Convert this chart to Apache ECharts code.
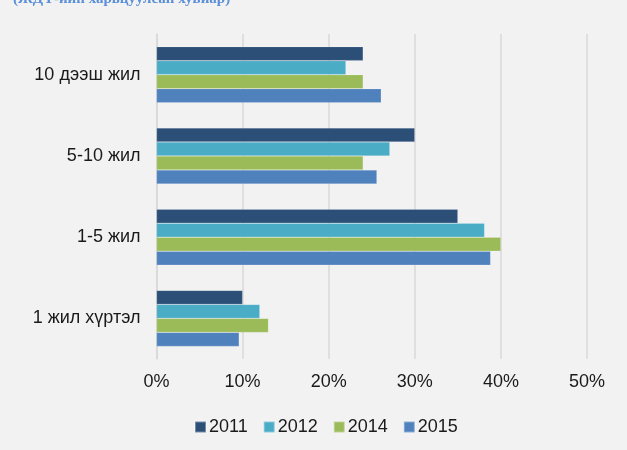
<!DOCTYPE html>
<html>
<head>
<meta charset="utf-8">
<script src="https://cdn.jsdelivr.net/npm/echarts@6/dist/echarts.min.js"></script>
<style>html,body{margin:0;padding:0;background:#f2f2f2;}#c{width:627px;height:450px;}</style>
</head>
<body>
<div id="c"></div>
<script>
var categories = ["10 дээш жил", "5-10 жил", "1-5 жил", "1 жил хүртэл"];
var years = ["2011", "2012", "2014", "2015"];
var s2011 = [24, 30, 35, 10];
var s2012 = [22, 27.1, 38.1, 12];
var s2014 = [24, 24, 40, 13];
var s2015 = [26.1, 25.6, 38.8, 9.6];
var xTicks = [0, 10, 20, 30, 40, 50];
var colors = ["#2c4f78", "#4bacc6", "#9bbb59", "#4f81bd"];

var chart = echarts.init(document.getElementById('c'));
var seriesData = [s2011, s2012, s2014, s2015];
chart.setOption({
  backgroundColor: '#f2f2f2',
  animation: false,
  color: colors,
  title: {
    text: '(ЖДҮ-ийн харьцуулсан хувиар)',
    left: 8, top: -13,
    textStyle: { fontFamily: 'Liberation Serif', fontWeight: 'bold', fontSize: 15, color: '#5b8fd8' }
  },
  legend: {
    bottom: 9, left: 189,
    itemWidth: 11, itemHeight: 11, itemGap: 15,
    icon: 'rect',
    textStyle: { fontFamily: 'Liberation Sans', fontSize: 18, color: '#1a1a1a', padding: [0, 0, 0, -2] },
    data: years
  },
  grid: { left: 156.5, right: 40, top: 34, bottom: 91, containLabel: false },
  xAxis: {
    type: 'value', min: xTicks[0], max: xTicks[xTicks.length - 1], interval: 10,
    axisLine: { show: false }, axisTick: { show: false },
    splitLine: { lineStyle: { color: '#d9d9d9', width: 1.5 } },
    axisLabel: { formatter: '{value}%', fontFamily: 'Liberation Sans', fontSize: 18, color: '#1a1a1a', margin: 14 }
  },
  yAxis: {
    type: 'category', data: categories, inverse: true,
    axisLine: { show: true, lineStyle: { color: '#d9d9d9', width: 1.5 } },
    axisTick: { show: false },
    axisLabel: { fontFamily: 'Liberation Sans', fontSize: 18, color: '#1a1a1a', margin: 16 }
  },
  series: years.map(function (y, i) {
    return {
      name: y, type: 'bar', data: seriesData[i],
      barWidth: 14, barGap: '0%',
      itemStyle: { color: colors[i], borderColor: 'rgba(255,255,255,0.35)', borderWidth: 0.5 }
    };
  })
});
</script>
</body>
</html>
